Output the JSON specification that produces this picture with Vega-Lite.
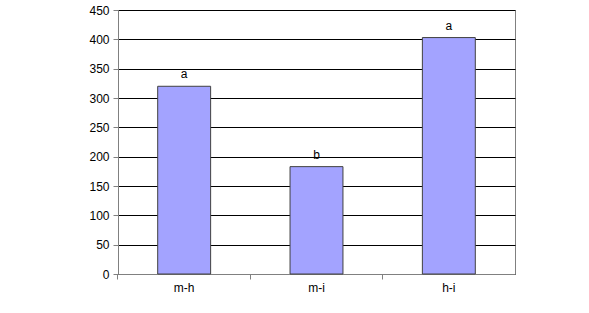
{
  "$schema": "https://vega.github.io/schema/vega-lite/v6.json",
  "width": 397,
  "height": 264,
  "autosize": "none",
  "padding": {"left": 118, "top": 10, "right": 74, "bottom": 39},
  "background": "white",
  "config": {
    "view": {"stroke": "#808080", "strokeWidth": 1},
    "font": "Liberation Sans"
  },
  "data": {
    "values": [
      {"pair": "m-h", "value": 320, "group": "a"},
      {"pair": "m-i", "value": 183, "group": "b"},
      {"pair": "h-i", "value": 403, "group": "a"}
    ]
  },
  "encoding": {
    "x": {
      "field": "pair",
      "type": "nominal",
      "sort": null,
      "scale": {"paddingInner": 0.6, "paddingOuter": 0.3}
    },
    "y": {
      "field": "value",
      "type": "quantitative",
      "title": null,
      "scale": {"domain": [0, 450], "nice": false},
      "axis": {
        "values": [0, 50, 100, 150, 200, 250, 300, 350, 400, 450],
        "labelOverlap": false,
        "labelFontSize": 12,
        "labelColor": "#000",
        "labelPadding": 4,
        "tickSize": 5,
        "tickColor": "#808080",
        "domainColor": "#808080",
        "gridColor": "#000",
        "gridOpacity": 1
      }
    }
  },
  "layer": [
    {
      "mark": {"type": "bar", "fill": "#A3A3FF", "stroke": "#404040", "strokeWidth": 1},
      "encoding": {
        "x": {
          "field": "pair",
          "type": "nominal",
          "sort": null,
          "title": null,
          "axis": {
            "labelAngle": 0,
            "labelFontSize": 12,
            "labelColor": "#000",
            "labelPadding": 8,
            "ticks": false,
            "domain": true,
            "domainColor": "#808080",
            "grid": false
          }
        }
      }
    },
    {
      "mark": {"type": "text", "dy": -12, "fontSize": 12, "color": "#000", "font": "Liberation Sans"},
      "encoding": {
        "text": {"field": "group"},
        "x": {
          "field": "pair",
          "type": "nominal",
          "sort": null,
          "title": null,
          "axis": {
            "orient": "bottom",
            "labels": false,
            "domain": false,
            "grid": false,
            "ticks": true,
            "tickSize": 5,
            "tickColor": "#808080",
            "bandPosition": -0.75
          }
        }
      }
    }
  ],
  "resolve": {"axis": {"x": "independent"}}
}
